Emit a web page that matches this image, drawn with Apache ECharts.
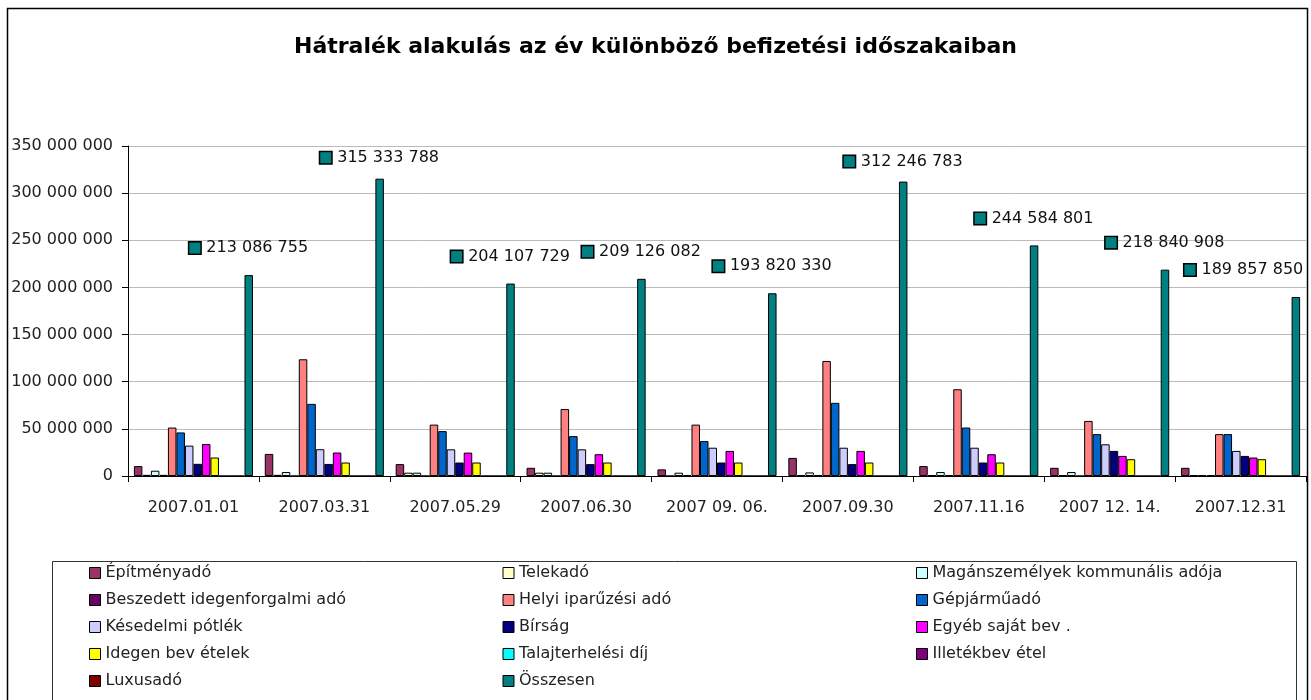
<!DOCTYPE html>
<html>
<head>
<meta charset="utf-8">
<script src="https://cdn.jsdelivr.net/npm/echarts@6/dist/echarts.min.js"></script>
<style>
  html, body { margin: 0; padding: 0; background: #fff; }
  #chart { width: 1311px; height: 700px; }
</style>
</head>
<body>
<div id="chart"></div>
<script>
// kategóriák (befizetési időszakok)
const dates = ['2007.01.01', '2007.03.31', '2007.05.29', '2007.06.30', '2007 09. 06.', '2007.09.30', '2007.11.16', '2007 12. 14.', '2007.12.31']

// értékek Ft-ban
const epitmenyado = [10.5e6, 23.4e6, 12.6e6, 8.7e6, 7.0e6, 19.2e6, 10.5e6, 8.7e6, 8.7e6]
const telekado = [1.2e6, 1.2e6, 3.5e6, 3.5e6, 0, 1.0e6, 1.0e6, 1.0e6, 0.8e6]
const maganszemelyek = [5.6e6, 4.2e6, 3.5e6, 3.5e6, 3.5e6, 3.8e6, 4.2e6, 4.2e6, 0.8e6]
const idegenforgalmi = [1.2e6, 0, 0, 0, 1.0e6, 1.0e6, 1.0e6, 0, 0.8e6]
const iparuzesi = [51.4e6, 123.8e6, 54.5e6, 71.0e6, 54.5e6, 122.0e6, 92.0e6, 58.4e6, 44.4e6]
const gepjarmuado = [46.2e6, 76.5e6, 47.6e6, 42.3e6, 37.0e6, 77.6e6, 51.4e6, 44.4e6, 44.4e6]
const kesedelmi = [32.2e6, 28.4e6, 28.3e6, 28.3e6, 30.0e6, 30.0e6, 30.0e6, 33.6e6, 26.6e6]
const birsag = [12.9e6, 12.8e6, 14.3e6, 12.6e6, 14.3e6, 12.6e6, 14.3e6, 26.6e6, 21.3e6]
const egyeb = [33.9e6, 24.9e6, 24.8e6, 23.1e6, 26.6e6, 26.6e6, 23.1e6, 21.3e6, 19.6e6]
const idegenBevetelek = [19.6e6, 14.3e6, 14.3e6, 14.3e6, 14.3e6, 14.3e6, 14.3e6, 17.8e6, 17.8e6]
const talajterhelesi = [0, 0, 0, 0, 0, 0, 0, 0, 0]
const illetekbevetel = [0, 0, 0, 0, 0, 0, 0, 0, 0]
const luxusado = [0, 0, 0, 0, 0, 0, 0, 0, 0]
const osszesen = [213086755, 315333788, 204107729, 209126082, 193820330, 312246783, 244584801, 218840908, 189857850]

const yTicks = { min: 0, max: 350000000, interval: 50000000 }

// a feliratok kézi eltolása (mint az eredeti Excel ábrán)
const labelShift = [[0, 0], [0, 6], [0, 0], [0, 0], [0, 0], [0, 7], [0, 0], [0, 0], [-52, 0]]

const FONT = 'DejaVu Sans'

function fmt(v) {
  return String(Math.round(v)).replace(/\B(?=(\d{3})+(?!\d))/g, ' ')
}

const seriesDefs = [
  ['Építményadó', epitmenyado, '#993366'],
  ['Telekadó', telekado, '#FFFFCC'],
  ['Magánszemélyek kommunális adója', maganszemelyek, '#CCFFFF'],
  ['Beszedett idegenforgalmi adó', idegenforgalmi, '#660066'],
  ['Helyi iparűzési adó', iparuzesi, '#FF8080'],
  ['Gépjárműadó', gepjarmuado, '#0066CC'],
  ['Késedelmi pótlék', kesedelmi, '#CCCCFF'],
  ['Bírság', birsag, '#000080'],
  ['Egyéb saját bev .', egyeb, '#FF00FF'],
  ['Idegen bev ételek', idegenBevetelek, '#FFFF00'],
  ['Talajterhelési díj', talajterhelesi, '#00FFFF'],
  ['Illetékbev étel', illetekbevetel, '#800080'],
  ['Luxusadó', luxusado, '#800000'],
  ['Összesen', osszesen, '#008080']
]

const series = seriesDefs.map(([name, data, color]) => {
  const s = {
    name: name,
    type: 'bar',
    data: data,
    barGap: '0%',
    barCategoryGap: '9%',
    itemStyle: { color: color, borderColor: '#000', borderWidth: 1 },
    emphasis: { disabled: true }
  }
  if (name === 'Összesen') {
    s.data = data.map((v, i) => ({
      value: v,
      label: { offset: labelShift[i] }
    }))
    s.label = {
      show: true,
      position: 'top',
      distance: 18,
      formatter: (p) => '{box|}{val|' + fmt(p.value) + '}',
      rich: {
        box: { width: 11, height: 11, backgroundColor: '#008080', borderColor: '#000', borderWidth: 1.5 },
        val: { fontFamily: FONT, fontSize: 16, color: '#111', padding: [0, 0, 0, 6], lineHeight: 18 }
      }
    }
  }
  return s
})

const chart = echarts.init(document.getElementById('chart'))
chart.setOption({
  animation: false,
  backgroundColor: '#fff',
  title: {
    text: 'Hátralék alakulás az év különböző befizetési időszakaiban',
    left: 'center',
    top: 31,
    textStyle: { fontFamily: FONT, fontSize: 22, fontWeight: 'bold', color: '#000' }
  },
  grid: { left: 128, right: 5, top: 146, bottom: 224 },
  legend: {
    left: 84,
    top: 558,
    width: 1240,
    itemWidth: 11,
    itemHeight: 11,
    itemGap: 7,
    icon: 'rect',
    itemStyle: { borderColor: '#000', borderWidth: 1 },
    textStyle: { fontFamily: FONT, fontSize: 16, color: '#222', width: 390, lineHeight: 20 },
    selectedMode: false
  },
  xAxis: {
    type: 'category',
    data: dates,
    axisLine: { lineStyle: { color: '#000', width: 1 } },
    axisTick: { show: true, length: 6, lineStyle: { color: '#000' } },
    axisLabel: { fontFamily: FONT, fontSize: 16, color: '#222', margin: 24, interval: 0 }
  },
  yAxis: {
    type: 'value',
    min: yTicks.min,
    max: yTicks.max,
    interval: yTicks.interval,
    axisLine: { show: true, lineStyle: { color: '#000', width: 1 } },
    axisTick: { show: true, length: 6, lineStyle: { color: '#000' } },
    axisLabel: { fontFamily: FONT, fontSize: 16, color: '#222', margin: 15, formatter: fmt },
    splitLine: { lineStyle: { color: '#bbb', width: 1 } }
  },
  series: series,
  graphic: [
    {
      type: 'rect',
      shape: { x: 7.5, y: 8.5, width: 1300, height: 720 },
      style: { fill: 'none', stroke: '#000', lineWidth: 1.5 },
      silent: true
    },
    {
      type: 'rect',
      shape: { x: 52.5, y: 561.5, width: 1244, height: 200 },
      style: { fill: 'none', stroke: '#333', lineWidth: 1 },
      silent: true
    }
  ]
})
</script>
</body>
</html>
